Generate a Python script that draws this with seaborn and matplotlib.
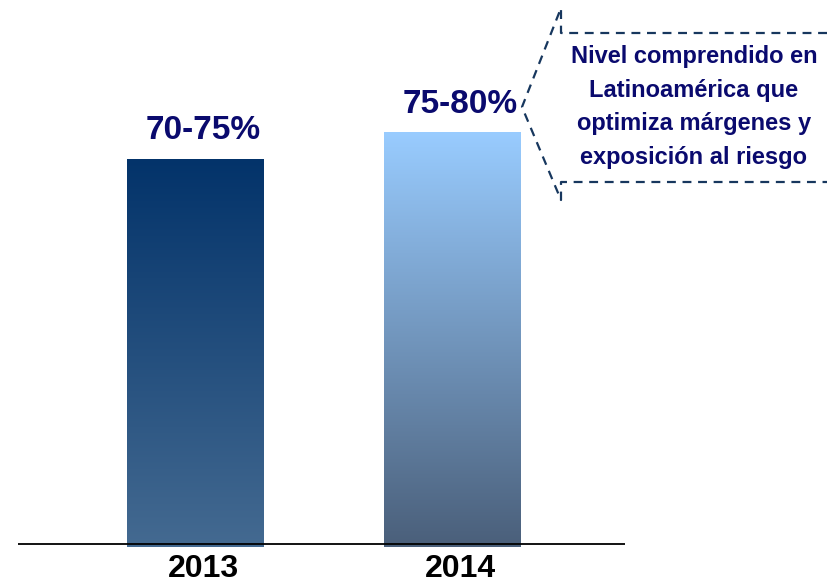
import matplotlib
matplotlib.use('Agg')
import matplotlib.pyplot as plt
import matplotlib.transforms as mtransforms
from matplotlib.colors import LinearSegmentedColormap
from matplotlib.lines import Line2D
import numpy as np
import seaborn as sns

# data
years = ['2013', '2014']
values = [72.5, 77.5]          # mid point of each range
range_labels = ['70-75%', '75-80%']
grad_top = ['#03336A', '#99CCFF']
grad_bottom = ['#446A91', '#4A5F7A']
note_text = 'Nivel comprendido en\nLatinoamérica que\noptimiza márgenes y\nexposición al riesgo'

sns.set_style('white')
plt.rcParams['font.family'] = ['Liberation Sans', 'DejaVu Sans']

W, H = 827, 583
fig = plt.figure(figsize=(W / 100, H / 100), dpi=100)
ax = fig.add_axes([18 / W, 36 / H, 607 / W, 535.5 / H])

sns.barplot(x=years, y=values, ax=ax, width=0.53, color='white')

# gradient fill for each bar
for i, bar in enumerate(ax.patches):
    x0, y0 = bar.get_x(), bar.get_y()
    w, h = bar.get_width(), bar.get_height()
    cmap = LinearSegmentedColormap.from_list('g%d' % i, [grad_bottom[i], grad_top[i]])
    grad = np.linspace(0, 1, 256).reshape(-1, 1)
    im = ax.imshow(grad, cmap=cmap, aspect='auto', origin='lower',
                   extent=[x0, x0 + w, y0, y0 + h], zorder=2)
    im.set_clip_path(bar)
    bar.set_facecolor('none')
    bar.set_edgecolor('none')
    ax.annotate(range_labels[i], xy=(x0 + w / 2, y0 + h), xytext=(6, 14),
                textcoords='offset points', ha='center', va='baseline',
                fontsize=24, fontweight='bold', color='#0A0A6E')

ax.set_xlim(-0.689, 1.673)
ax.set_ylim(0, 100)

# baseline drawn slightly above the bars' bottom, over the bars
ax.axhline(0.56, color='black', lw=1.3, zorder=5)

for s in ax.spines.values():
    s.set_visible(False)
ax.set_yticks([])
ax.set_xlabel('')
ax.set_ylabel('')
ax.tick_params(axis='x', length=0, pad=5)
shift = mtransforms.ScaledTranslation(8 / 100, 0, fig.dpi_scale_trans)
for lab in ax.get_xticklabels():
    lab.set_fontsize(23)
    lab.set_fontweight('bold')
    lab.set_color('black')
    lab.set_transform(lab.get_transform() + shift)

# dashed callout
px = [827, 561, 561, 522, 561, 561, 827]
py = [33, 33, 8, 107, 200, 182, 182]
fig.add_artist(Line2D([p / W for p in px], [1 - p / H for p in py],
                      transform=fig.transFigure, color='#17375E', lw=1.6,
                      linestyle=(0, (4, 3))))
fig.text(694 / W, 1 - 107 / H, note_text, ha='center', va='center',
         fontsize=17, fontweight='bold', color='#0A0A6E', linespacing=1.6)

fig.savefig('out.png', dpi=100)
